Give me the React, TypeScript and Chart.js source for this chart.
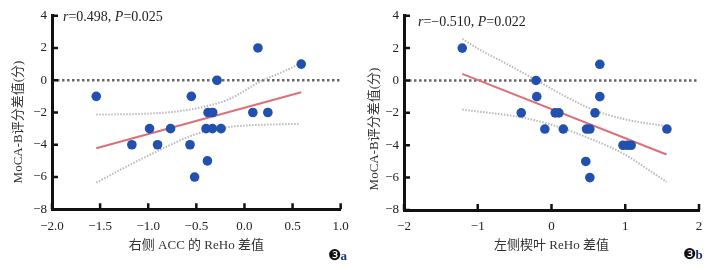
import React, { useEffect, useRef } from "react";
import { Chart, registerables } from "chart.js";
Chart.register(...registerables);

// ---------- Panel a: 右侧ACC ----------
const aX = [-1.54, -0.552, -0.285, 0.14, 0.59, -0.378, -0.33, 0.087, 0.243, -0.986, -0.768, -0.399, -0.333, -0.243, -1.17, -0.903, -0.566, -0.385, -0.518];
const aY = [-1, -1, 0, 2, 1, -2, -2, -2, -2, -3, -3, -3, -3, -3, -4, -4, -4, -5, -6];
const aFitX = [-1.54, 0.59];
const aFitY = [-4.22, -0.74];
const aUpperX = [-1.54, -1.01, -0.67, -0.39, -0.15, 0.17, 0.375, 0.58];
const aUpperY = [-2.13, -2.07, -1.91, -1.6, -1.15, -0.06, 0.46, 1.03];
const aLowerX = [-1.54, -1.19, -0.84, -0.56, -0.32, -0.04, 0.58];
const aLowerY = [-6.35, -5.24, -4.21, -3.46, -3.04, -2.83, -2.7];
const aXTicks = [-2, -1.5, -1, -0.5, 0, 0.5, 1];

// ---------- Panel b: 左侧楔叶 ----------
const bX = [-1.21, 0.655, -0.21, -0.2, 0.655, -0.41, 0.05, 0.1, 0.59, -0.09, 0.16, 0.475, 0.52, 1.565, 0.97, 1.03, 1.08, 0.465, 0.52];
const bY = [2, 1, 0, -1, -1, -2, -2, -2, -2, -3, -3, -3, -3, -3, -4, -4, -4, -5, -6];
const bFitX = [-1.21, 1.56];
const bFitY = [0.41, -4.57];
const bUpperX = [-1.21, -0.97, -0.61, -0.2, 0.29, 0.61, 1.02, 1.56];
const bUpperY = [2.57, 1.89, 1.03, 0.0, -1.23, -1.89, -2.42, -2.83];
const bLowerX = [-1.21, -0.385, 0.07, 0.52, 0.97, 1.29, 1.56];
const bLowerY = [-1.8, -2.3, -2.83, -3.59, -4.51, -5.44, -6.26];
const bXTicks = [-2, -1, 0, 1, 2];

const yTicks = [-8, -6, -4, -2, 0, 2, 4];
const yTitle = "MoCA-B评分差值(分)";

const SERIF = '"Liberation Serif", "Noto Sans CJK SC", serif';
const DOT = "#2150ae";
const FIT = "#dd6f78";
const BAND = "#b9b9b9";
const ZERO = "#666666";

const pts = (xs: number[], ys: number[]) => xs.map((x, i) => ({ x, y: ys[i] }));
const fmt = (v: number, d: number) => (v < 0 ? "\u2212" : "") + Math.abs(v).toFixed(d);

type Spec = {
  px: number[]; py: number[];
  fx: number[]; fy: number[];
  ux: number[]; uy: number[];
  lx: number[]; ly: number[];
  xTicks: number[]; xDec: number;
  xTitle: string;
  stat: { t: string; i?: boolean }[];
  statX: number; statY: number;
  tag: string; tagX: number; tagY: number;
  yTitleX: number; yTitleY: number;
  yWidth: number; padRight: number; xHeight: number;
};

const specA: Spec = {
  px: aX, py: aY, fx: aFitX, fy: aFitY, ux: aUpperX, uy: aUpperY, lx: aLowerX, ly: aLowerY,
  xTicks: aXTicks, xDec: 1, xTitle: "右侧 ACC 的 ReHo 差值",
  stat: [{ t: "r", i: true }, { t: "=0.498, " }, { t: "P", i: true }, { t: "=0.025" }],
  statX: 63, statY: 20.5, tag: "a", tagX: 328, tagY: 256, yTitleX: 19, yTitleY: 122,
  yWidth: 52, padRight: 19.3, xHeight: 60.7,
};
const specB: Spec = {
  px: bX, py: bY, fx: bFitX, fy: bFitY, ux: bUpperX, uy: bUpperY, lx: bLowerX, ly: bLowerY,
  xTicks: bXTicks, xDec: 0, xTitle: "左侧楔叶 ReHo 差值",
  stat: [{ t: "r", i: true }, { t: "=\u22120.510, " }, { t: "P", i: true }, { t: "=0.022" }],
  statX: 58, statY: 25.5, tag: "b", tagX: 323, tagY: 255, yTitleX: 15, yTitleY: 129,
  yWidth: 44, padRight: 22, xHeight: 60,
};

function makeConfig(s: Spec): any {
  const xMin = s.xTicks[0];
  const xMax = s.xTicks[s.xTicks.length - 1];
  const overlay = {
    id: "overlay",
    afterDraw(chart: any) {
      const ctx = chart.ctx;
      const ca = chart.chartArea;
      const xs = chart.scales.x;
      const ys = chart.scales.y;
      ctx.save();
      // inward tick marks
      ctx.strokeStyle = "#111";
      ctx.lineWidth = 2.5;
      ctx.beginPath();
      s.xTicks.forEach((v) => {
        const p = xs.getPixelForValue(v);
        ctx.moveTo(p, ca.bottom);
        ctx.lineTo(p, ca.bottom - 6);
      });
      yTicks.forEach((v) => {
        const p = ys.getPixelForValue(v);
        ctx.moveTo(ca.left, p);
        ctx.lineTo(ca.left + 6, p);
      });
      ctx.stroke();
      // stat text
      ctx.fillStyle = "#222";
      ctx.textBaseline = "alphabetic";
      ctx.textAlign = "left";
      let x = s.statX;
      s.stat.forEach((seg) => {
        ctx.font = (seg.i ? "italic " : "") + "14px " + SERIF;
        ctx.fillText(seg.t, x, s.statY);
        x += ctx.measureText(seg.t).width;
      });
      // y title
      ctx.save();
      ctx.translate(s.yTitleX, s.yTitleY);
      ctx.rotate(-Math.PI / 2);
      ctx.font = "13px " + SERIF;
      ctx.fillStyle = "#333";
      ctx.textAlign = "center";
      ctx.textBaseline = "middle";
      ctx.fillText(yTitle, 0, 0);
      ctx.restore();
      // panel tag
      ctx.font = '15px "DejaVu Sans"';
      ctx.fillStyle = "#111";
      ctx.textBaseline = "middle";
      ctx.fillText("\u2778", s.tagX, s.tagY);
      const w = ctx.measureText("\u2778").width;
      ctx.font = "bold 13px " + SERIF;
      ctx.fillStyle = "#1b2f6a";
      ctx.fillText(s.tag, s.tagX + w - 1, s.tagY + 1);
      ctx.restore();
    },
  };
  return {
    type: "scatter",
    data: {
      datasets: [
        {
          data: pts(s.px, s.py), backgroundColor: DOT, borderWidth: 0, pointRadius: 4.8, order: 0,
        },
        {
          data: pts(s.fx, s.fy), showLine: true, borderColor: FIT, borderWidth: 2, pointRadius: 0, order: 1,
        },
        {
          data: pts(s.ux, s.uy), showLine: true, borderColor: BAND, borderWidth: 2, borderDash: [1.5, 1.5],
          pointRadius: 0, cubicInterpolationMode: "monotone", order: 2,
        },
        {
          data: pts(s.lx, s.ly), showLine: true, borderColor: BAND, borderWidth: 2, borderDash: [1.5, 1.5],
          pointRadius: 0, cubicInterpolationMode: "monotone", order: 2,
        },
        {
          data: [{ x: xMin, y: 0 }, { x: xMax, y: 0 }], showLine: true, borderColor: ZERO, borderWidth: 2.5,
          borderDash: [2.5, 2.5], pointRadius: 0, order: 3,
        },
      ],
    },
    options: {
      responsive: false,
      animation: false,
      devicePixelRatio: 1,
      layout: { padding: { left: 0, right: s.padRight, top: 15.7, bottom: 0 } },
      plugins: { legend: { display: false }, tooltip: { enabled: false } },
      scales: {
        x: {
          type: "linear", min: xMin, max: xMax,
          afterBuildTicks: (sc: any) => { sc.ticks = s.xTicks.map((v) => ({ value: v })); },
          afterFit: (sc: any) => { sc.height = s.xHeight; },
          grid: { display: false, drawTicks: false },
          border: { display: true, color: "#111", width: 3 },
          ticks: {
            padding: 9, color: "#222", font: { family: SERIF, size: 13 },
            callback: (v: number) => fmt(v, s.xDec), maxRotation: 0, autoSkip: false,
          },
          title: {
            display: true, text: s.xTitle, color: "#333", font: { family: SERIF, size: 13 },
            padding: { top: 0, bottom: 17 },
          },
        },
        y: {
          type: "linear", min: -8, max: 4,
          afterBuildTicks: (sc: any) => { sc.ticks = yTicks.map((v) => ({ value: v })); },
          afterFit: (sc: any) => { sc.width = s.yWidth; },
          grid: { display: false, drawTicks: false },
          border: { display: true, color: "#111", width: 3 },
          ticks: {
            padding: 5, color: "#222", font: { family: SERIF, size: 13 },
            callback: (v: number) => fmt(v, 0), autoSkip: false,
          },
        },
      },
    },
    plugins: [overlay],
  };
}

function Panel({ spec, left, width }: { spec: Spec; left: number; width: number }) {
  const ref = useRef<HTMLCanvasElement>(null);
  useEffect(() => {
    const chart = new Chart(ref.current as HTMLCanvasElement, makeConfig(spec));
    return () => chart.destroy();
  }, [spec]);
  return (
    <canvas
      ref={ref}
      width={width}
      height={270}
      style={{ position: "absolute", left, top: 0, width, height: 270 }}
    />
  );
}

export default function App() {
  useEffect(() => {
    document.body.style.margin = "0";
  }, []);
  return (
    <div style={{ position: "relative", width: 721, height: 270, background: "#fff", overflow: "hidden" }}>
      <Panel spec={specA} left={0} width={360} />
      <Panel spec={specB} left={360} width={361} />
    </div>
  );
}
